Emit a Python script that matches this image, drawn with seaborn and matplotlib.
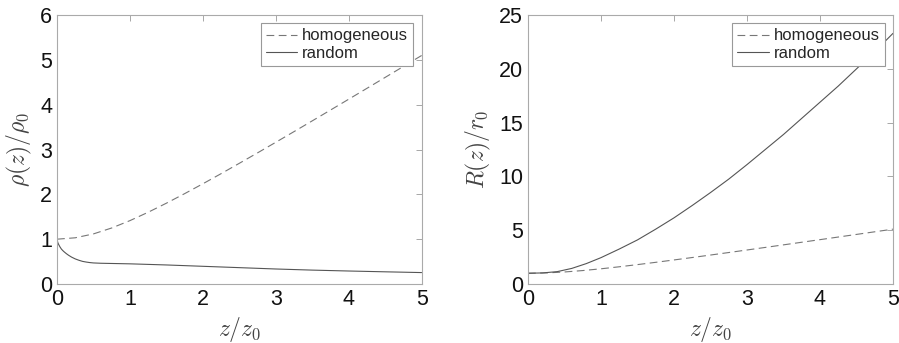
import numpy as np
import pandas as pd
import matplotlib
matplotlib.use("Agg")
import matplotlib.pyplot as plt
import seaborn as sns

# data
z_hom = [0, 0.25, 0.5, 0.75, 1, 1.25, 1.5, 1.75, 2, 2.25, 2.5, 2.75, 3, 3.25, 3.5,
         3.75, 4, 4.25, 4.5, 4.75, 5]
rho_hom = [1.0, 1.031, 1.118, 1.25, 1.414, 1.601, 1.803, 2.016, 2.236, 2.462, 2.693,
           2.926, 3.162, 3.400, 3.640, 3.881, 4.123, 4.366, 4.610, 4.854, 5.099]
R_hom = list(rho_hom)

z_rho_rand = [0, 0.01, 0.02, 0.04, 0.06, 0.08, 0.1, 0.13, 0.16, 0.2, 0.25, 0.3, 0.35,
              0.4, 0.45, 0.5, 0.6, 0.75, 1, 1.5, 2, 2.5, 3, 3.5, 4, 4.5, 5]
rho_rand = [1.0, 0.93, 0.89, 0.83, 0.78, 0.745, 0.715, 0.675, 0.64, 0.6, 0.56, 0.53,
            0.505, 0.49, 0.478, 0.47, 0.463, 0.458, 0.45, 0.425, 0.395, 0.365, 0.335,
            0.31, 0.29, 0.272, 0.255]

z_R_rand = [0, 0.2, 0.4, 0.6, 0.8, 1, 1.25, 1.5, 1.75, 2, 2.25, 2.5, 2.75, 3, 3.25,
            3.5, 3.75, 4, 4.25, 4.5, 4.75, 5]
R_rand = [1.0, 1.03, 1.15, 1.45, 1.9, 2.45, 3.25, 4.1, 5.1, 6.15, 7.3, 8.5, 9.75, 11.1,
          12.5, 13.9, 15.4, 16.9, 18.4, 20.0, 21.6, 23.3]

labels = ["homogeneous", "random"]


def make_df(zh, yh, zr, yr):
    a = pd.DataFrame({"z": zh, "y": yh, "case": labels[0]})
    b = pd.DataFrame({"z": zr, "y": yr, "case": labels[1]})
    return pd.concat([a, b], ignore_index=True)


sns.set_style("white")
plt.rcParams["font.family"] = ["Liberation Sans", "DejaVu Sans"]
plt.rcParams["mathtext.fontset"] = "cm"

fig = plt.figure(figsize=(8.99, 3.43), dpi=100)
ax1 = fig.add_axes([0.0634, 0.172, 0.4056, 0.784])
ax2 = fig.add_axes([0.5873, 0.172, 0.4060, 0.784])

pal = {"homogeneous": "#777777", "random": "#555555"}
dsh = {"homogeneous": (7, 4), "random": ""}

panels = [
    (ax1, make_df(z_hom, rho_hom, z_rho_rand, rho_rand), r"$\rho(z)/\rho_0$", (0, 6), range(0, 7)),
    (ax2, make_df(z_hom, R_hom, z_R_rand, R_rand), r"$R(z)/r_0$", (0, 25), range(0, 26, 5)),
]

for ax, df, ylab, ylim, yt in panels:
    sns.lineplot(data=df, x="z", y="y", hue="case", style="case", palette=pal,
                 dashes=dsh, hue_order=labels, style_order=labels, lw=0.8, ax=ax)
    ax.set_xlim(0, 5)
    ax.set_ylim(*ylim)
    ax.set_xticks(range(0, 6))
    ax.set_yticks(list(yt))
    ax.set_xlabel(r"$z/z_0$", fontsize=17, color="#444444")
    ax.set_ylabel(ylab, fontsize=17, color="#444444")
    ax.tick_params(direction="in", length=4, width=0.6, color="#999999",
                   labelsize=15.5, top=True, right=True, labelcolor="#111111")
    for s in ax.spines.values():
        s.set_color("#aaaaaa")
        s.set_linewidth(0.8)
    leg = ax.legend(loc="upper right", fontsize=12, frameon=True, fancybox=False,
                    borderaxespad=0.5, handlelength=1.9, handletextpad=0.3,
                    borderpad=0.3, labelspacing=0.15, framealpha=1)
    leg.get_frame().set_edgecolor("#999999")
    leg.get_frame().set_linewidth(0.8)
    leg.set_title(None)

fig.savefig("out.png", dpi=100)
